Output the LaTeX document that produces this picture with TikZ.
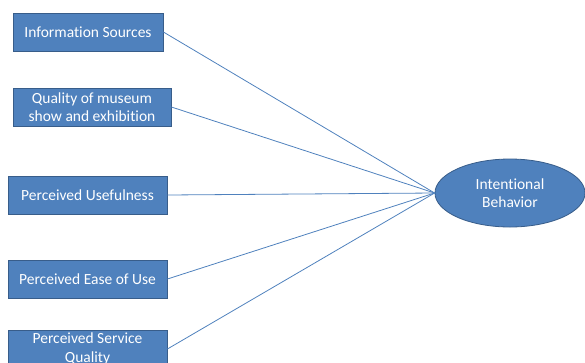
\documentclass[tikz,border=0pt]{standalone}
\usepackage{fontspec}
\setmainfont{Carlito}[Ligatures=NoCommon]
\usetikzlibrary{shapes.geometric}
\definecolor{boxblue}{HTML}{4F81BD}
\definecolor{boxedge}{HTML}{385D8A}
\begin{document}
\begin{tikzpicture}[x=1pt,y=-1pt,line width=0.8pt,
      factor/.style={draw=boxedge,fill=boxblue,text=white,minimum height=38pt,
        inner sep=1pt,align=center,font=\fontsize{15.5}{18.5}\selectfont},
      goal/.style={ellipse,draw=boxedge,fill=boxblue,text=white,minimum width=150pt,
        minimum height=68pt,inner sep=0pt,align=center,font=\fontsize{15.5}{18.5}\selectfont},
      link/.style={draw=boxblue,line width=0.8pt}]
    \useasboundingbox (0,0) rectangle (585,362);
    \node[factor,minimum width=150pt] at (88,32) (info) {Information Sources};
    \node[factor,minimum width=158pt] at (92,107) (quality) {Quality of museum\\show and exhibition};
    \node[factor,minimum width=159pt] at (87.5,195) (useful) {Perceived Usefulness};
    \node[factor,minimum width=159pt] at (87.5,279) (ease) {Perceived Ease of Use};
    \node[factor,minimum width=159pt] at (87.5,349) (service) {Perceived Service\\Quality};
    \node[goal] at (510,193) (behav) {Intentional\\Behavior};
    \foreach \src in {info,quality,useful,ease,service}
      \draw[link] (\src.east)--(behav.west);
  \end{tikzpicture}
\end{document}
